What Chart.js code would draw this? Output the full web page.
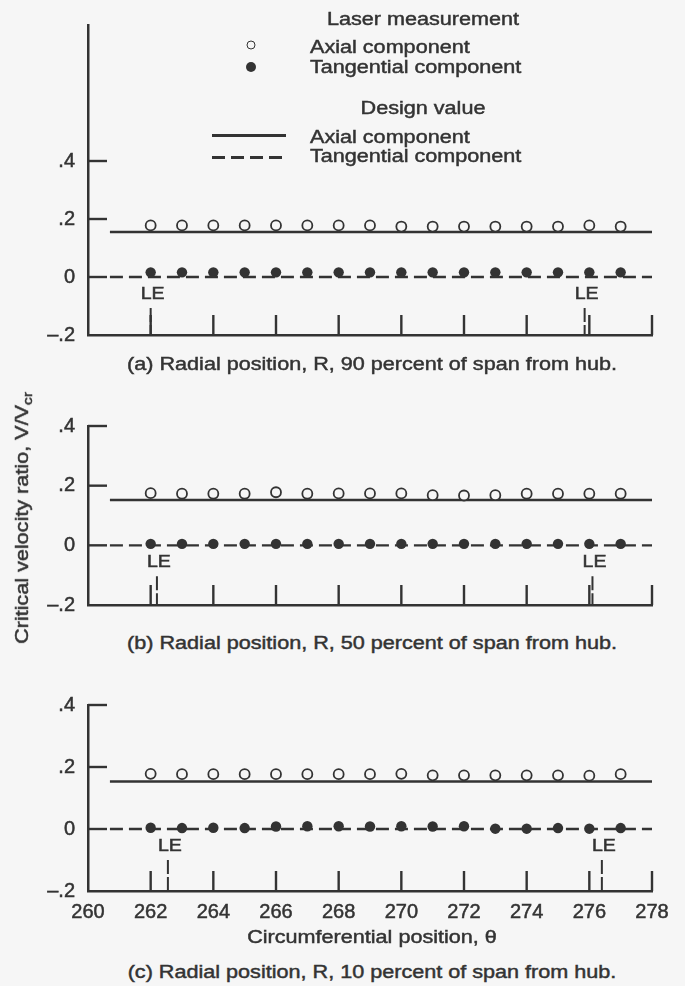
<!DOCTYPE html>
<html><head><meta charset="utf-8">
<script src="https://cdn.jsdelivr.net/npm/chart.js@4/dist/chart.umd.min.js"></script>
<style>
html,body{margin:0;padding:0;background:#f6f6f6;}
body{width:685px;height:986px;position:relative;overflow:hidden;font-family:'Liberation Sans',Arial,sans-serif;color:#333;}
canvas{position:absolute;left:0;}
.t{position:absolute;white-space:nowrap;font-size:18px;line-height:20px;-webkit-text-stroke:0.45px #333;}
.c{transform:translate(-50%,-50%) scaleX(1.2);}
.l{transform-origin:0 50%;transform:translateY(-50%) scaleX(1.2);}
.yt{transform:translate(-50%,-50%) rotate(-90deg) scaleX(1.2);}
.yt sub{font-size:13px;vertical-align:-4px;line-height:0;}
.oc{position:absolute;width:9px;height:9px;box-sizing:border-box;border:1.7px solid #333;border-radius:50%;transform:translate(-50%,-50%);}
.fc{position:absolute;width:10px;height:10px;background:#333;border-radius:50%;transform:translate(-50%,-50%);}
.sl{position:absolute;height:2.5px;background:#333;}
.dl{position:absolute;height:2.5px;background:repeating-linear-gradient(to right,#333 0 13px,transparent 13px 19px);}
</style></head>
<body>
<canvas id="ca" width="685" height="360" style="top:0"></canvas>
<canvas id="cb" width="685" height="230" style="top:400px"></canvas>
<canvas id="cc" width="685" height="250" style="top:680px"></canvas>

<div class="t c" style="left:423px;top:19px">Laser measurement</div>
<div class="oc" style="left:251px;top:45px"></div>
<div class="t l" style="left:310px;top:47px">Axial component</div>
<div class="fc" style="left:251px;top:67px"></div>
<div class="t l" style="left:310px;top:67px">Tangential component</div>
<div class="t c" style="left:423px;top:108px">Design value</div>
<div class="sl" style="left:212px;width:74px;top:134px"></div>
<div class="t l" style="left:310px;top:137px">Axial component</div>
<div class="dl" style="left:212px;width:70px;top:156px"></div>
<div class="t l" style="left:310px;top:156px">Tangential component</div>

<div class="t c" style="left:372px;top:364px">(a) Radial position, R, 90 percent of span from hub.</div>
<div class="t c" style="left:372px;top:643px">(b) Radial position, R, 50 percent of span from hub.</div>
<div class="t c" style="left:372px;top:937px">Circumferential position, θ</div>
<div class="t c" style="left:372px;top:972px">(c) Radial position, R, 10 percent of span from hub.</div>
<div class="t yt" style="left:22px;top:518px">Critical velocity ratio, V/V<sub>cr</sub></div>

<script>
// ---- data ----
const thetaPositions = [262,263,264,265,266,267,268,269,270,271,272,273,274,275,276,277];
const yTickValues = [-0.2, 0, 0.2, 0.4];
const xTickValues = [260,262,264,266,268,270,272,274,276,278];

const axialA = [0.178,0.178,0.178,0.178,0.178,0.178,0.178,0.178,0.174,0.174,0.174,0.174,0.174,0.174,0.178,0.174];
const tangA  = [0.016,0.016,0.016,0.016,0.016,0.016,0.016,0.016,0.016,0.016,0.016,0.016,0.016,0.016,0.016,0.016];
const axialB = [0.175,0.173,0.173,0.173,0.178,0.173,0.174,0.174,0.174,0.168,0.167,0.168,0.173,0.173,0.173,0.173];
const tangB  = [0.005,0.005,0.005,0.005,0.005,0.005,0.005,0.005,0.005,0.005,0.005,0.005,0.005,0.005,0.005,0.005];
const axialC = [0.178,0.177,0.177,0.177,0.177,0.177,0.177,0.177,0.178,0.173,0.173,0.173,0.173,0.173,0.172,0.177];
const tangC  = [0.004,0.003,0.004,0.003,0.008,0.009,0.009,0.008,0.009,0.008,0.009,0.001,0.001,0.003,0.001,0.003];

const designAxial = [0.155, 0.152, 0.153];
const designTangential = [0, 0, 0];
const designRange = [260.7, 278];

const leA = [262.0, 275.85];
const leB = [262.2, 276.1];
const leC = [262.55, 276.4];

// ---- drawing ----
const INK = '#333', BG = '#f6f6f6';
const FONT = {family:"'Liberation Sans', Arial, sans-serif", size:20};

const decor = {
  id:'decor',
  afterDatasetsDraw(chart, args, opts){
    const {ctx, chartArea:ca} = chart;
    const x = chart.scales.x, y = chart.scales.y;
    ctx.save();
    ctx.strokeStyle = INK; ctx.lineWidth = 2.4; ctx.lineCap = 'butt';
    const ln = (a,b,c,d)=>{ctx.beginPath();ctx.moveTo(a,b);ctx.lineTo(c,d);ctx.stroke();};
    yTickValues.forEach(v=>{ if (v<=y.min+1e-9) return; const py=y.getPixelForValue(v); ln(ca.left, py, ca.left+19, py); });
    xTickValues.forEach(v=>{ if (v<=x.min+1e-9) return; const px=x.getPixelForValue(v); ln(px, ca.bottom, px, ca.bottom-20); });
    const y0 = y.getPixelForValue(0);
    ctx.fillStyle = INK; ctx.font = "17px 'Liberation Sans', Arial, sans-serif";
    ctx.textAlign = 'center'; ctx.textBaseline = 'middle';
    opts.le.forEach(v=>{
      const px = x.getPixelForValue(v);
      ctx.lineWidth = 2;
      ctx.setLineDash([14,3]);
      ln(px, y0+31, px, ca.bottom);
      ctx.setLineDash([]);
      ctx.save(); ctx.translate(px+2, y0+17); ctx.scale(1.15,1);
      ctx.lineWidth = 0.5; ctx.strokeStyle = INK;
      ctx.fillText('LE', 0, 0); ctx.strokeText('LE', 0, 0); ctx.restore();
    });
    ctx.restore();
  }
};

function fmtY(v){
  if (Math.abs(v) < 1e-9) return '0';
  const s = Math.abs(v).toFixed(1).replace(/^0/, '');
  return v < 0 ? '\u2013' + s : s;
}

function makeChart(id, idx, axial, tang, le, yMax, padTop, xH, showX){
  return new Chart(document.getElementById(id), {
    type:'scatter',
    data:{datasets:[
      {label:'Axial component (laser)', data: thetaPositions.map((t,i)=>({x:t,y:axial[i]})),
       pointStyle:'circle', pointRadius:5, pointBorderWidth:1.8, pointBackgroundColor:BG, pointBorderColor:INK, showLine:false},
      {label:'Tangential component (laser)', data: thetaPositions.map((t,i)=>({x:t,y:tang[i]})),
       pointStyle:'circle', pointRadius:5.2, pointBorderWidth:0, pointBackgroundColor:INK, pointBorderColor:INK, showLine:false},
      {label:'Axial component (design)', data: designRange.map(t=>({x:t,y:designAxial[idx]})),
       showLine:true, pointRadius:0, borderColor:INK, borderWidth:2.6},
      {label:'Tangential component (design)', data: designRange.map(t=>({x:t,y:designTangential[idx]})),
       showLine:true, pointRadius:0, borderColor:INK, borderWidth:2.4, borderDash:[13,6]}
    ]},
    options:{
      responsive:false, animation:false, devicePixelRatio:1,
      layout:{padding:{left:0,right:33,top:padTop,bottom:0}, autoPadding:false},
      plugins:{legend:{display:false}, tooltip:{enabled:false}, decor:{le:le}},
      scales:{
        x:{type:'linear', min:260, max:278,
           afterBuildTicks:s=>{s.ticks = xTickValues.map(v=>({value:v}));},
           afterFit:s=>{s.height = xH;},
           grid:{display:false, drawTicks:false},
           border:{display:true, color:INK, width:2.5},
           ticks:{display:showX, font:FONT, color:INK, textStrokeColor:INK, textStrokeWidth:0.5, padding:9, maxRotation:0, autoSkip:false, callback:v=>String(v)}},
        y:{type:'linear', min:-0.2, max:yMax,
           afterBuildTicks:s=>{s.ticks = yTickValues.map(v=>({value:v}));},
           afterFit:s=>{s.width = 88;},
           grid:{display:false, drawTicks:false},
           border:{display:true, color:INK, width:2.5},
           ticks:{font:FONT, color:INK, textStrokeColor:INK, textStrokeWidth:0.5, padding:13, callback:v=>fmtY(v)}}
      }
    },
    plugins:[decor]
  });
}

makeChart('ca', 0, axialA, tangA, leA, 0.869, 8, 17, false);
makeChart('cb', 1, axialB, tangB, leB, 0.4, 26, 15, false);
makeChart('cc', 2, axialC, tangC, leC, 0.4, 19, 39, true);
</script>
</body></html>
